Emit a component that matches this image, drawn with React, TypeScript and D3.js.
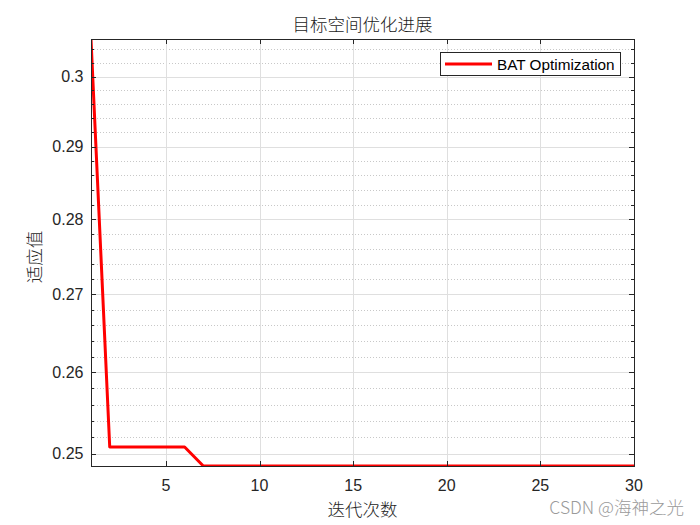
import React from "react";
import * as d3 from "d3";

const fitness = [
  0.3055, 0.2508, 0.2508, 0.2508, 0.2508, 0.2508, 0.2485, 0.2485, 0.2485, 0.2485,
  0.2485, 0.2485, 0.2485, 0.2485, 0.2485, 0.2485, 0.2485, 0.2485, 0.2485, 0.2485,
  0.2485, 0.2485, 0.2485, 0.2485, 0.2485, 0.2485, 0.2485, 0.2485, 0.2485, 0.2485,
];
const iterations = fitness.map((_, i) => i + 1);
const xTicks = [5, 10, 15, 20, 25, 30];
const yTicks = [0.25, 0.26, 0.27, 0.28, 0.29, 0.3];
const yTickLabels = ["0.25", "0.26", "0.27", "0.28", "0.29", "0.3"];
const yMinorTicks = [
  0.252, 0.254, 0.256, 0.258, 0.262, 0.264, 0.266, 0.268, 0.272, 0.274, 0.276,
  0.278, 0.282, 0.284, 0.286, 0.288, 0.292, 0.294, 0.296, 0.298, 0.302, 0.304,
];
const titleText = "目标空间优化进展";
const xLabel = "迭代次数";
const yLabel = "适应值";
const legendLabel = "BAT Optimization";
const watermark = "CSDN @海神之光";

const W = 700;
const H = 525;
const L = 91;
const R = 634;
const T = 39;
const B = 466;

export default function App() {
  const x = d3.scaleLinear().domain([1, 30]).range([L, R]);
  const y = d3.scaleLog().domain([0.2485, 0.3055]).range([B, T]);
  const line = d3
    .line<number>()
    .x((_, i) => x(iterations[i]))
    .y((d) => y(d));
  const axisColor = "#262626";
  const gridColor = "#dfdfdf";
  const minorColor = "#c8c8c8";
  const tickFont = "'Liberation Sans', Arial, sans-serif";
  const cjkFont = "'Noto Sans CJK SC', sans-serif";
  return (
    <svg
      width={W}
      height={H}
      style={{ position: "absolute", left: 0, top: 0, background: "#fff" }}
    >
      <rect x={0} y={0} width={W} height={H} fill="#fff" />
      <clipPath id="plotclip">
        <rect x={L} y={T} width={R - L} height={B - T} />
      </clipPath>
      {/* minor grid */}
      {yMinorTicks.map((v) => (
        <line
          key={"mg" + v}
          x1={L}
          x2={R}
          y1={Math.round(y(v)) + 0.5}
          y2={Math.round(y(v)) + 0.5}
          stroke={minorColor}
          strokeWidth={1}
          strokeDasharray="1,2"
        />
      ))}
      {/* major grid */}
      {yTicks.map((v) => (
        <line
          key={"gy" + v}
          x1={L}
          x2={R}
          y1={Math.round(y(v)) + 0.5}
          y2={Math.round(y(v)) + 0.5}
          stroke={gridColor}
          strokeWidth={1}
        />
      ))}
      {xTicks.map((v) => (
        <line
          key={"gx" + v}
          x1={Math.round(x(v)) + 0.5}
          x2={Math.round(x(v)) + 0.5}
          y1={T}
          y2={B}
          stroke={gridColor}
          strokeWidth={1}
        />
      ))}
      {/* data line */}
      <path
        d={line(fitness) || ""}
        fill="none"
        stroke="#ff0000"
        strokeWidth={3}
        strokeLinejoin="round"
        clipPath="url(#plotclip)"
      />
      {/* axes box */}
      <rect
        x={L + 0.5}
        y={T + 0.5}
        width={R - L}
        height={B - T}
        fill="none"
        stroke={axisColor}
        strokeWidth={1}
      />
      {/* ticks */}
      {xTicks.map((v) => (
        <g key={"tx" + v}>
          <line
            x1={Math.round(x(v)) + 0.5}
            x2={Math.round(x(v)) + 0.5}
            y1={B}
            y2={B - 5}
            stroke={axisColor}
          />
          <line
            x1={Math.round(x(v)) + 0.5}
            x2={Math.round(x(v)) + 0.5}
            y1={T}
            y2={T + 5}
            stroke={axisColor}
          />
          <text
            x={x(v)}
            y={491}
            textAnchor="middle"
            fontFamily={tickFont}
            fontSize={16}
            fill={axisColor}
          >
            {v}
          </text>
        </g>
      ))}
      {yTicks.map((v, i) => (
        <g key={"ty" + v}>
          <line x1={L} x2={L + 5} y1={Math.round(y(v)) + 0.5} y2={Math.round(y(v)) + 0.5} stroke={axisColor} />
          <line x1={R} x2={R - 5} y1={Math.round(y(v)) + 0.5} y2={Math.round(y(v)) + 0.5} stroke={axisColor} />
          <text
            x={83.5}
            y={y(v) + 5.5}
            textAnchor="end"
            fontFamily={tickFont}
            fontSize={16}
            fill={axisColor}
          >
            {yTickLabels[i]}
          </text>
        </g>
      ))}
      {yMinorTicks.map((v) => (
        <g key={"tm" + v}>
          <line x1={L} x2={L + 3} y1={Math.round(y(v)) + 0.5} y2={Math.round(y(v)) + 0.5} stroke={axisColor} />
          <line x1={R} x2={R - 3} y1={Math.round(y(v)) + 0.5} y2={Math.round(y(v)) + 0.5} stroke={axisColor} />
        </g>
      ))}
      {/* title & labels */}
      <text
        x={(L + R) / 2}
        y={31}
        textAnchor="middle"
        fontFamily={cjkFont}
        fontSize={17.5}
        fontWeight={300}
        fill="#1a1a1a"
      >
        {titleText}
      </text>
      <text
        x={(L + R) / 2}
        y={515.5}
        textAnchor="middle"
        fontFamily={cjkFont}
        fontSize={17.5}
        fontWeight={300}
        fill={axisColor}
      >
        {xLabel}
      </text>
      <text
        transform={`translate(41, 257) rotate(-90)`}
        textAnchor="middle"
        fontFamily={cjkFont}
        fontSize={17.5}
        fontWeight={300}
        fill={axisColor}
      >
        {yLabel}
      </text>
      {/* legend */}
      <rect x={440.5} y={52.5} width={180} height={23} fill="#fff" stroke={axisColor} strokeWidth={1} />
      <line x1={445} x2={492} y1={64} y2={64} stroke="#ff0000" strokeWidth={3} />
      <text x={497} y={69.5} fontFamily={tickFont} fontSize={15.3} fill="#000">
        {legendLabel}
      </text>
      {/* watermark */}
      <text
        x={684}
        y={514}
        textAnchor="end"
        fontFamily={cjkFont}
        fontSize={17.5}
        fontWeight={300}
        fill="#9a9a9a"
      >
        {watermark}
      </text>
    </svg>
  );
}
